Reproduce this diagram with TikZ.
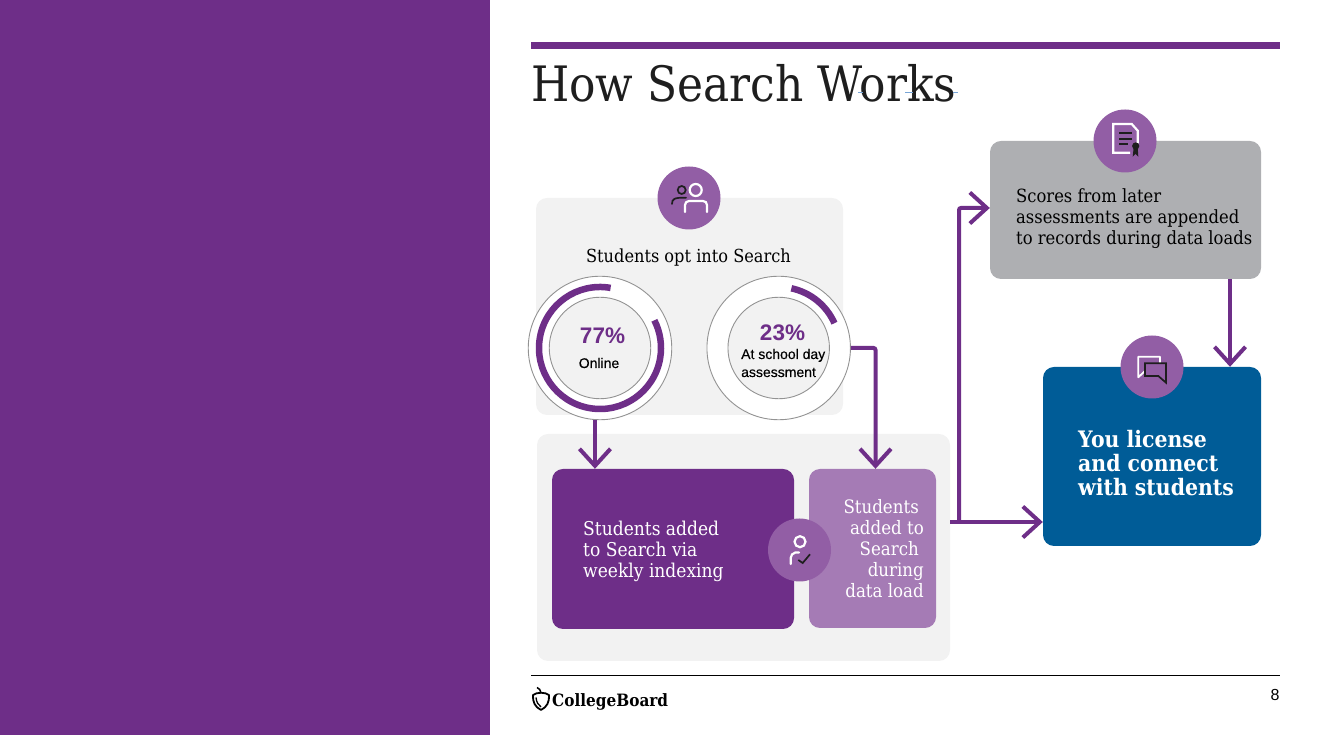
\documentclass[tikz,border=0pt]{standalone}
\usepackage{fontspec}
\setmainfont[FakeStretch=0.9]{DejaVu Serif}
\newfontfamily\labelfont{Liberation Sans}
\newfontfamily\mediumfont[FakeBold=0.25]{Liberation Sans}
\usepackage{tikz}
\usetikzlibrary{positioning,calc,arrows.meta}
\definecolor{brandpurple}{RGB}{110,46,136}
\definecolor{badgepurple}{RGB}{146,94,165}
\definecolor{lightpurple}{RGB}{165,123,181}
\definecolor{panelgray}{RGB}{242,242,242}
\definecolor{scoregray}{RGB}{174,175,178}
\definecolor{licenseblue}{RGB}{0,92,151}
\definecolor{inkblack}{RGB}{30,30,30}
\definecolor{markblue}{RGB}{120,165,215}
\tikzstyle{panel} = [rectangle, rounded corners=11pt, fill=panelgray, inner sep=0pt]
\tikzstyle{stepbox} = [rectangle, rounded corners=11pt, inner sep=0pt]
\tikzstyle{iconbadge} = [circle, fill=badgepurple, minimum size=63pt, inner sep=0pt]
\tikzstyle{ringouter} = [circle, draw=gray!85, line width=0.9pt, fill=white, minimum size=143.5pt, inner sep=0pt]
\tikzstyle{ringinner} = [circle, draw=gray!85, line width=0.9pt, fill=panelgray, minimum size=101.5pt, inner sep=0pt]
\tikzstyle{ringarc} = [draw=brandpurple, line width=6.5pt]
\tikzstyle{arrow} = [-{Straight Barb[length=17pt,width=31pt]}, line width=4pt, draw=brandpurple, rounded corners=2pt]
\tikzstyle{bodytext} = [font=\fontsize{18}{21}\selectfont, align=left, inner sep=0pt]
\tikzstyle{pcttext} = [font=\labelfont\bfseries\fontsize{22.5}{24}\selectfont, text=brandpurple, inner sep=0pt]
\tikzstyle{ringtext} = [font=\mediumfont\fontsize{14}{18}\selectfont, align=left, inner sep=0pt]
\tikzstyle{iconwhite} = [draw=white, line width=2.2pt, line cap=round]
\tikzstyle{icondark} = [draw=inkblack, line width=1.7pt]

\begin{document}
\begin{tikzpicture}[x=1pt,y=1pt]
    \useasboundingbox (0,0) rectangle (1319,735);

    % Left band and header
    \node[rectangle, fill=brandpurple, minimum width=490pt, minimum height=735pt, inner sep=0pt] (band) at (245,367.5) {};
    \node[rectangle, fill=brandpurple, minimum width=749pt, minimum height=7pt, inner sep=0pt] (toprule) at (905.5,689.5) {};
    \node[anchor=base west, inner sep=0pt, font=\fontsize{48.8}{50}\selectfont, text=inkblack] (title) at (531,633) {How Search Works};
    \foreach \a/\b in {858/863,905/913,953/958} {
        \draw[markblue, line width=0.8pt] (\a,642.3) -- (\b,642.3);
    }

    % Panels
    \node[panel, minimum width=307pt, minimum height=217pt] (optpanel) at (689.5,428.5) {};
    \node[panel, minimum width=413pt, minimum height=227pt] (addpanel) at (743.5,187.5) {};

    % Boxes
    \node[stepbox, fill=brandpurple, minimum width=242pt, minimum height=160pt] (weekly) at (673,186) {};
    \node[stepbox, fill=lightpurple, minimum width=127pt, minimum height=159pt] (load) at (872.5,186.5) {};
    \node[stepbox, fill=scoregray, minimum width=271pt, minimum height=138pt] (scores) at (1125.5,525) {};
    \node[stepbox, fill=licenseblue, minimum width=218pt, minimum height=179pt] (license) at (1152,278.5) {};

    % Percentage rings
    \foreach \name/\x in {ringA/600,ringB/778.7} {
        \node[ringouter] (\name) at (\x,387) {};
        \node[ringinner] (\name in) at (\x,387) {};
    }
    \draw[ringarc] ([shift={(80:61)}]ringA.center) arc[start angle=80, end angle=387, radius=61];
    \draw[ringarc] ([shift={(78:61)}]ringB.center) arc[start angle=78, end angle=24, radius=61];

    % Connectors
    \coordinate (split) at (950,213);
    \coordinate (turn) at (959,213);
    \draw[arrow] (ringA.266) -- (ringA.266 |- weekly.north);
    \draw[arrow] (ringB.east) -| ([xshift=3pt]load.north);
    \draw[arrow] (split) -- (split -| license.west);
    \draw[arrow] (turn) |- ([yshift=2pt]scores.west);
    \draw[arrow] ([xshift=104.5pt]scores.south) -- ([xshift=78pt]license.north);

    % Text
    \node[bodytext] (opttext) at (688.5,477) {Students opt into Search};
    \node[pcttext] (pctA) at (602.5,399) {77\%};
    \node[ringtext] (labelA) at (599,372) {Online};
    \node[pcttext] (pctB) at (782.5,402) {23\%};
    \node[ringtext, anchor=west] (labelB) at (741,372) {At school day\\assessment};
    \node[bodytext, anchor=west, text=white, font=\fontsize{19}{21}\selectfont] (weeklytext) at (583,184) {Students added\\to Search via\\weekly indexing};
    \node[bodytext, anchor=east, align=right, text=white, font=\fontsize{18.5}{21}\selectfont] (loadtext) at (924,186) {Students\kern5pt\\added to\\Search\kern5pt\\during\\data load};
    \node[bodytext, anchor=west, text=black, font=\fontsize{18.2}{21}\selectfont] (scorestext) at (1016,516) {Scores from later\\assessments are appended\\to records during data loads};
    \node[anchor=west, align=left, inner sep=0pt, text=white, font=\bfseries\fontsize{22.7}{24}\selectfont] (licensetext) at (1078,272) {You license\\and connect\\with students};

    % Icon badges
    \foreach \name/\x/\y in {badgeopt/689/537,badgecheck/799.5/185,badgescore/1125/594,badgechat/1152/368} {
        \node[iconbadge] (\name) at (\x,\y) {};
    }

    % Two people
    \draw[icondark] (681.7,545) circle (4);
    \draw[icondark, line cap=round] (672,531) .. controls (672,536) and (674,537.5) .. (686,537.3);
    \draw[iconwhite] (695.7,545) circle (6);
    \draw[iconwhite] (685,523) -- (685,530) arc[start angle=180, end angle=90, radius=4] -- (703,534) arc[start angle=90, end angle=0, radius=4] -- (707,523);

    % Person with check
    \draw[iconwhite] (800,193.3) circle (5.5);
    \draw[iconwhite] (790.7,171) -- (790.7,177) arc[start angle=180, end angle=100, radius=5.5] -- (799,182.5);
    \draw[icondark] (798.3,175) -- (802.7,172) -- (810,180.7);

    % Certificate
    \draw[iconwhite, line cap=butt] (1130,582.3) -- (1113.3,582.3) -- (1113.3,611) -- (1131.7,611) -- (1137.7,604.3) -- (1137.7,591.7);
    \foreach \y/\e in {601.7/1131.7,596/1131.7,590.7/1128} {
        \draw[icondark] (1119,\y) -- (\e,\y);
    }
    \fill[inkblack] (1135.7,589) circle (3.6);
    \fill[inkblack] (1133.7,588) -- (1132.7,578.3) -- (1135.5,581) -- (1138.3,578.3) -- (1137.7,588) -- cycle;

    % Speech bubbles
    \draw[draw=white, line width=1.8pt, line join=round] (1160,371) -- (1160,378.3) -- (1138.3,378.3) -- (1138.3,357.7) -- (1145,364);
    \draw[icondark, fill=badgepurple, line join=miter] (1145,371.7) -- (1166,371.7) -- (1166,352.3) -- (1158.3,359) -- (1145,359) -- cycle;

    % Footer
    \node[rectangle, fill=black, minimum width=749pt, minimum height=1pt, inner sep=0pt] (footrule) at (905.5,59.5) {};
    \node[anchor=base west, inner sep=0pt, font=\bfseries\fontsize{17}{17}\selectfont, text=black] (logotext) at (552,28) {CollegeBoard};
    \draw[black, line width=1.8pt, line join=round] (533,40) .. controls (537,43) and (545,43) .. (549,40) .. controls (549.5,33) and (547,28) .. (541,25) .. controls (535,28) and (532.5,33) .. (533,40) -- cycle;
    \draw[black, line width=1.3pt] (536,37.5) .. controls (536.5,33) and (538,30) .. (541,28);
    \draw[black, line width=1.5pt] (541,42) .. controls (541,45) and (539,46.5) .. (537,47.5);
    \node[anchor=base, inner sep=0pt, font=\labelfont\fontsize{16}{16}\selectfont, text=black] (pagenum) at (1275,34) {8};
\end{tikzpicture}
\end{document}
